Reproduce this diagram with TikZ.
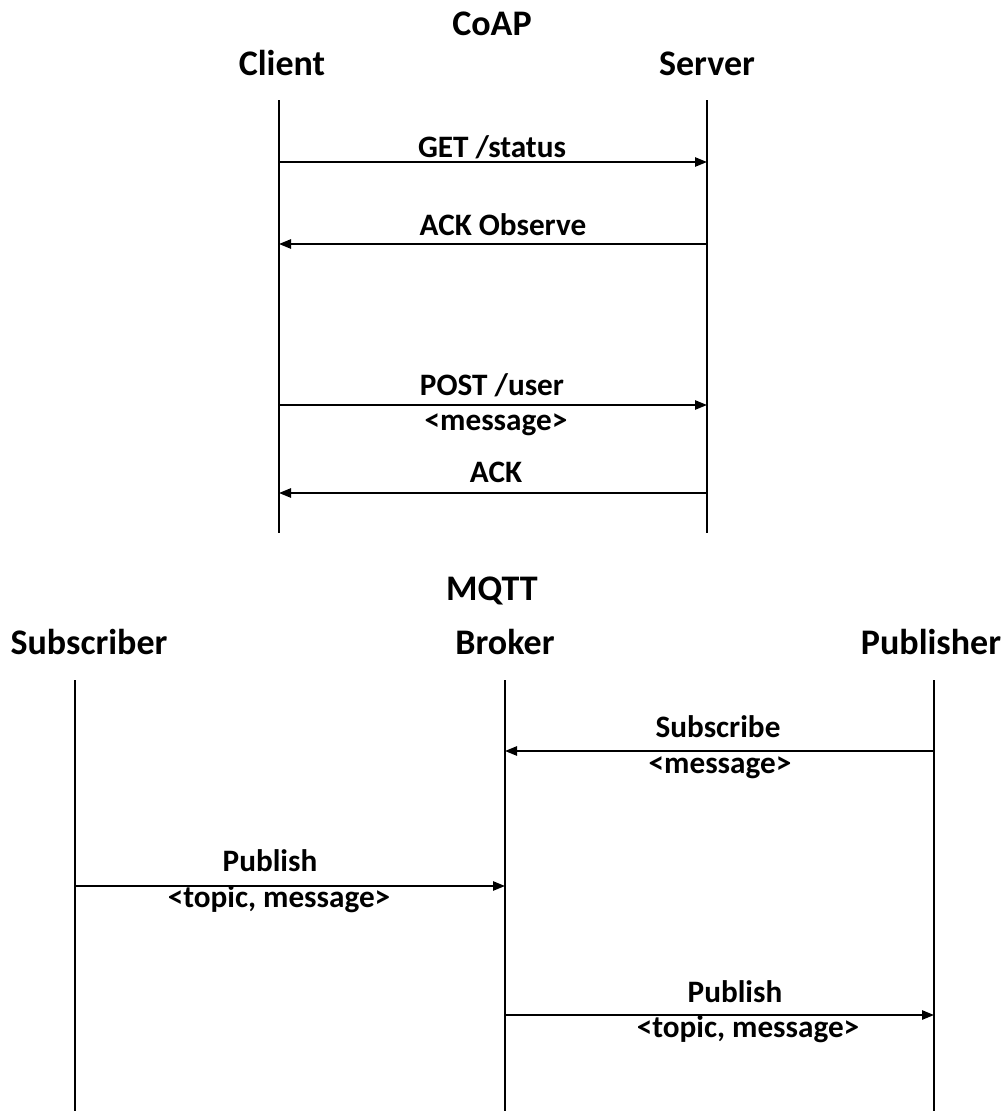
\documentclass[tikz,border=0pt]{standalone}
\usepackage{fontspec}
\setmainfont{Carlito}
\usetikzlibrary{arrows.meta}

\tikzset{
	lifeline/.style={line width=1.9pt},
	msg/.style={line width=1.2pt, -{Triangle[length=9pt,width=7pt]}},
	party/.style={font=\fontsize{27}{32}\selectfont\bfseries, anchor=base, inner sep=0pt},
	lbl/.style={font=\fontsize{23.4}{28}\selectfont\bfseries, anchor=base, inner sep=0pt}
}

\begin{document}
\begin{tikzpicture}[x=0.75pt, y=-0.75pt]
	    \useasboundingbox (0, 0) rectangle (1001, 1111);
	    
	    % CoAP
	    \node[party] at (492, 35) (coap) {CoAP};
	    \node[party] at (282, 75) (client) {Client};
	    \node[party] at (707, 75) (server) {Server};
	    
	    \coordinate (cTop) at (279, 100);
	    \coordinate (cBot) at (279, 533);
	    \coordinate (sTop) at (707, 100);
	    \coordinate (sBot) at (707, 533);
	    \draw[lifeline] (cTop) -- (cBot);
	    \draw[lifeline] (sTop) -- (sBot);
	    
	    \coordinate (c1) at (279, 162);
	    \coordinate (s1) at (707, 162);
	    \coordinate (c2) at (279, 244);
	    \coordinate (s2) at (707, 244);
	    \coordinate (c3) at (279, 405);
	    \coordinate (s3) at (707, 405);
	    \coordinate (c4) at (279, 493);
	    \coordinate (s4) at (707, 493);
	    
	    \draw[msg] (c1) -- (s1);
	    \draw[msg] (s2) -- (c2);
	    \draw[msg] (c3) -- (s3);
	    \draw[msg] (s4) -- (c4);
	    
	    \node[lbl] at (492, 157) (get) {GET /status};
	    \node[lbl] at (503, 235) (obs) {ACK Observe};
	    \node[lbl] at (492, 395) (post) {POST /user};
	    \node[lbl] at (496, 430) (pmsg) {<message>};
	    \node[lbl] at (496, 482) (ack) {ACK};
	    
	    % MQTT
	    \node[party] at (492, 600) (mqtt) {MQTT};
	    \node[party] at (89, 654) (sub) {Subscriber};
	    \node[party] at (505, 654) (broker) {Broker};
	    \node[party] at (931, 654) (pub) {Publisher};
	    
	    \coordinate (subTop) at (75, 680);
	    \coordinate (subBot) at (75, 1111);
	    \coordinate (bTop) at (505, 680);
	    \coordinate (bBot) at (505, 1111);
	    \coordinate (pTop) at (934, 680);
	    \coordinate (pBot) at (934, 1111);
	    \draw[lifeline] (subTop) -- (subBot);
	    \draw[lifeline] (bTop) -- (bBot);
	    \draw[lifeline] (pTop) -- (pBot);
	    
	    \coordinate (p1) at (934, 751);
	    \coordinate (b1) at (505, 751);
	    \coordinate (sub2) at (75, 886);
	    \coordinate (b2) at (505, 886);
	    \coordinate (b3) at (505, 1015);
	    \coordinate (p3) at (934, 1015);
	    
	    \draw[msg] (p1) -- (b1);
	    \draw[msg] (sub2) -- (b2);
	    \draw[msg] (b3) -- (p3);
	    
	    \node[lbl] at (718, 737) (subs) {Subscribe};
	    \node[lbl] at (720, 773) (smsg) {<message>};
	    \node[lbl] at (270, 871) (pub1) {Publish};
	    \node[lbl] at (279, 907) (tm1) {<topic, message>};
	    \node[lbl] at (735, 1002) (pub2) {Publish};
	    \node[lbl] at (748, 1037) (tm2) {<topic, message>};
	    
	    \end{tikzpicture}
\end{document}
